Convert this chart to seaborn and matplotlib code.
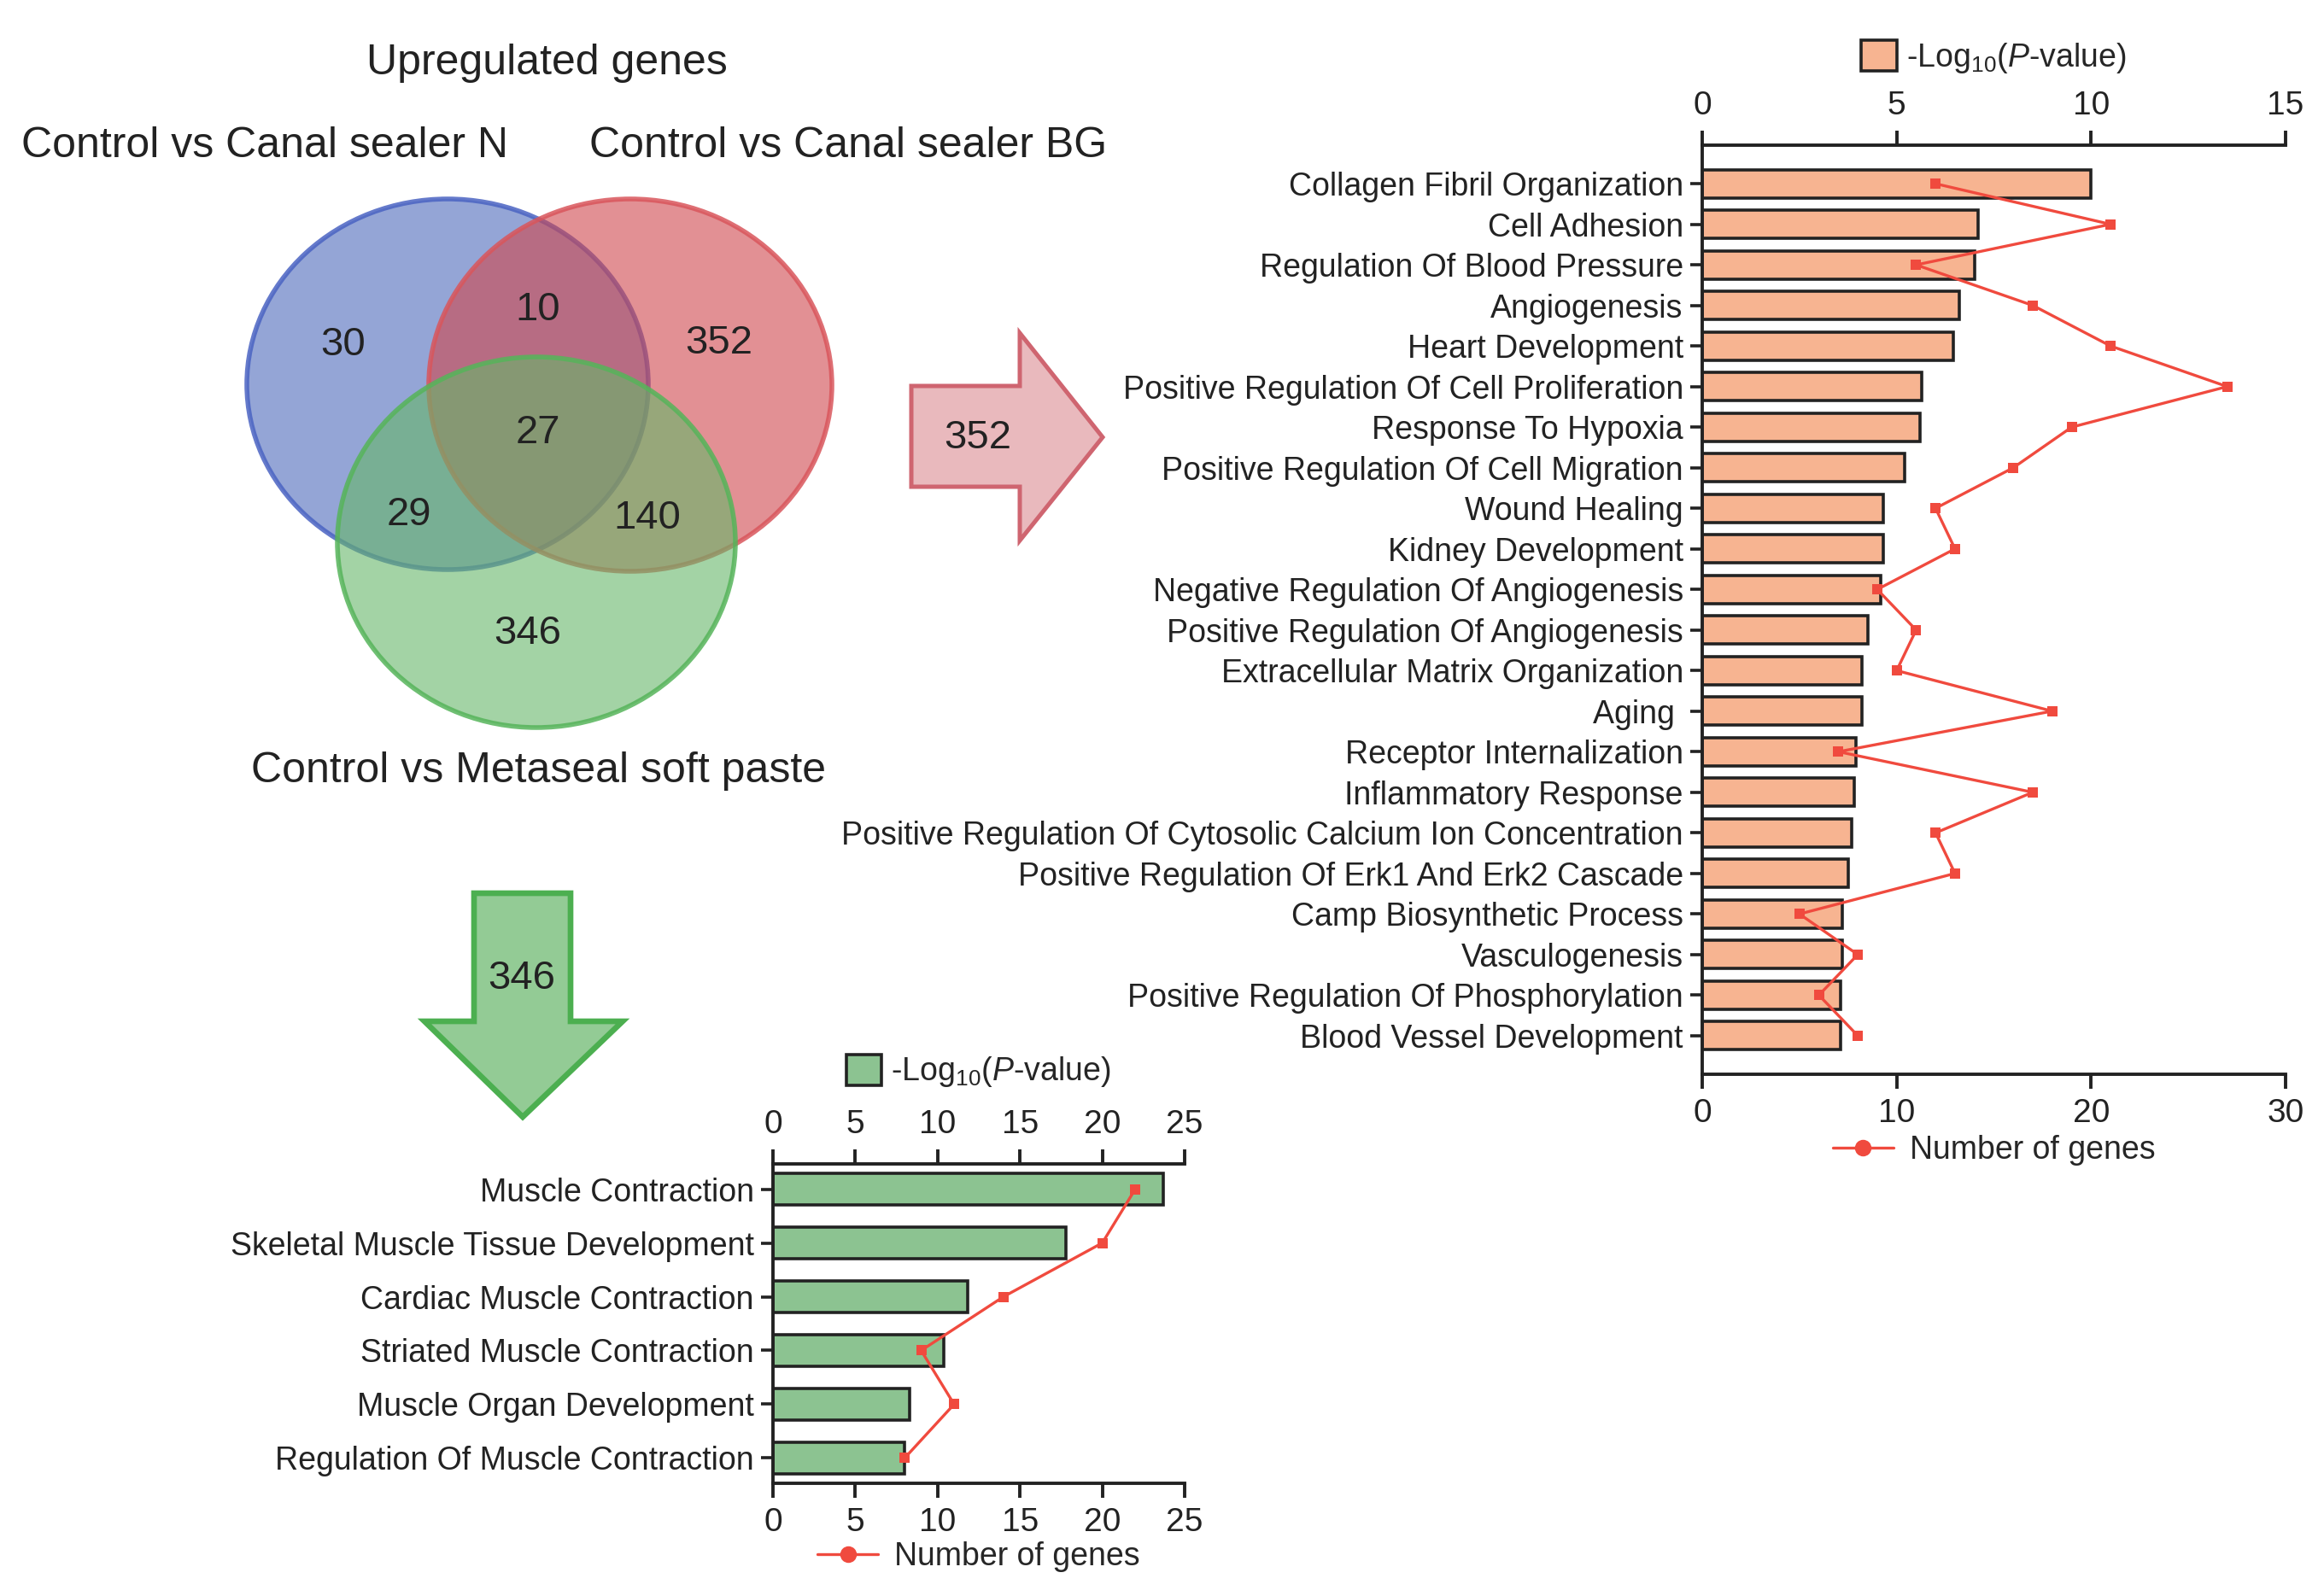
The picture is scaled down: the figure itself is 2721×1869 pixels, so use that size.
import numpy as np
import pandas as pd
import matplotlib
matplotlib.use('Agg')
import matplotlib.pyplot as plt
import seaborn as sns
from matplotlib.patches import Ellipse, Polygon, Patch
from matplotlib.lines import Line2D
from matplotlib.colors import to_rgba

# ---- data ----
set_names = ['Control vs Canal sealer N', 'Control vs Canal sealer BG', 'Control vs Metaseal soft paste']
venn_regions = ['N', 'N&BG', 'BG', 'all', 'N&MS', 'BG&MS', 'MS']
venn_counts = [30, 10, 352, 27, 29, 140, 346]

bg_terms = ['Collagen Fibril Organization', 'Cell Adhesion', 'Regulation Of Blood Pressure',
            'Angiogenesis', 'Heart Development', 'Positive Regulation Of Cell Proliferation',
            'Response To Hypoxia', 'Positive Regulation Of Cell Migration', 'Wound Healing',
            'Kidney Development', 'Negative Regulation Of Angiogenesis',
            'Positive Regulation Of Angiogenesis', 'Extracellular Matrix Organization', 'Aging ',
            'Receptor Internalization', 'Inflammatory Response',
            'Positive Regulation Of Cytosolic Calcium Ion Concentration',
            'Positive Regulation Of Erk1 And Erk2 Cascade', 'Camp Biosynthetic Process',
            'Vasculogenesis', 'Positive Regulation Of Phosphorylation', 'Blood Vessel Development']
bg_logp = [10.0, 7.1, 7.0, 6.6, 6.45, 5.65, 5.6, 5.2, 4.65, 4.65, 4.6,
           4.25, 4.1, 4.1, 3.95, 3.9, 3.85, 3.75, 3.6, 3.6, 3.55, 3.55]
bg_genes = [12, 21, 11, 17, 21, 27, 19, 16, 12, 13, 9, 11, 10, 18, 7, 17, 12, 13, 5, 8, 6, 8]

ms_terms = ['Muscle Contraction', 'Skeletal Muscle Tissue Development', 'Cardiac Muscle Contraction',
            'Striated Muscle Contraction', 'Muscle Organ Development', 'Regulation Of Muscle Contraction']
ms_logp = [23.7, 17.8, 11.85, 10.35, 8.3, 8.0]
ms_genes = [22, 20, 14, 9, 11, 8]

# ---- style ----
sns.set_style('ticks')
plt.rcParams['font.family'] = ['Liberation Sans', 'DejaVu Sans']
plt.rcParams['mathtext.fontset'] = 'custom'
plt.rcParams['mathtext.rm'] = 'Liberation Sans'
plt.rcParams['mathtext.it'] = 'Liberation Sans:italic'
ink = '#222222'
line_red = '#f04a3e'
logp_label = r'-Log$_{10}$($\mathit{P}$-value)'

W, H = 2721, 1869
fig = plt.figure(figsize=(W / 200, H / 200), dpi=200)

# ---- venn + arrows, drawn in pixel coordinates ----
venn = fig.add_axes([0, 0, 1, 1])
venn.set_xlim(0, W)
venn.set_ylim(H, 0)
venn.axis('off')

circles = [((524, 450), 470, 434, '#4d69bb', '#4a63c2'),
           ((738, 451), 472, 436, '#d0464d', '#d9565c'),
           ((628, 635), 466, 434, '#66b769', '#56b45a')]
for (cx, cy), w, h, fc, ec in circles:
    venn.add_patch(Ellipse((cx, cy), w, h, facecolor=to_rgba(fc, 0.6),
                           edgecolor=to_rgba(ec, 0.85), linewidth=2.0))

count_pos = [(402, 404), (630, 363), (842, 402), (630, 507), (479, 603), (758, 607), (618, 742)]
for (tx, ty), n in zip(count_pos, venn_counts):
    venn.text(tx, ty, str(n), fontsize=17, ha='center', va='center', color=ink)

venn.text(640, 74, 'Upregulated genes', fontsize=18, ha='center', va='center', color=ink)
venn.text(310, 171, set_names[0], fontsize=18, ha='center', va='center', color=ink)
venn.text(993, 171, set_names[1], fontsize=18, ha='center', va='center', color=ink)
venn.text(630, 903, set_names[2], fontsize=18, ha='center', va='center', color=ink)

red_arrow = [(1067, 452), (1194, 452), (1194, 390), (1291, 512), (1194, 633), (1194, 570), (1067, 570)]
venn.add_patch(Polygon(red_arrow, closed=True, facecolor='#e9b9bd', edgecolor='#cf6570', linewidth=1.8))
venn.text(1145, 513, str(venn_counts[2]), fontsize=17, ha='center', va='center', color=ink)

green_arrow = [(555, 1046), (668, 1046), (668, 1196), (729, 1196), (612, 1308), (497, 1196), (555, 1196)]
venn.add_patch(Polygon(green_arrow, closed=True, facecolor='#93cb95', edgecolor='#4caf50', linewidth=2.4))
venn.text(611, 1146, str(venn_counts[6]), fontsize=17, ha='center', va='center', color=ink)


def go_panel(rect, terms, logp, genes, color, top_max, top_ticks, bot_max, bot_ticks,
             ylim, bar_h, leg_top, leg_bot):
    ax = fig.add_axes(rect)
    df = pd.DataFrame({'term': terms, 'logp': logp})
    sns.barplot(data=df, x='logp', y='term', orient='h', color=color, saturation=1,
                edgecolor=ink, linewidth=1.3, width=bar_h, ax=ax)
    ax2 = ax.twiny()
    sns.lineplot(x=genes, y=np.arange(len(genes)), orient='y', sort=False, ax=ax2,
                 color=line_red, linewidth=1.2, marker='s', markersize=4.5, markeredgewidth=0)

    ax.set_xlim(0, top_max)
    ax.set_xticks(top_ticks)
    ax.xaxis.set_ticks_position('top')
    ax.set_xlabel('')
    ax.set_ylabel('')
    ax2.set_xlim(0, bot_max)
    ax2.set_xticks(bot_ticks)
    ax2.xaxis.set_ticks_position('bottom')
    ax2.set_xlabel('')
    ax2.set_ylabel('')
    ax.set_ylim(*ylim)

    for s in ['right', 'bottom']:
        ax.spines[s].set_visible(False)
    for s in ['right', 'top', 'left']:
        ax2.spines[s].set_visible(False)
    for s in ['top', 'left']:
        ax.spines[s].set_linewidth(1.4)
        ax.spines[s].set_color(ink)
    ax2.spines['bottom'].set_linewidth(1.4)
    ax2.spines['bottom'].set_color(ink)

    ax.tick_params(axis='x', direction='out', length=6, width=1.4, labelsize=14, pad=4, colors=ink)
    ax.tick_params(axis='y', direction='out', length=5, width=1.3, labelsize=13.5, pad=3, colors=ink)
    ax2.tick_params(axis='x', direction='out', length=6, width=1.4, labelsize=14, pad=4, colors=ink)

    h1 = Patch(facecolor=color, edgecolor=ink, linewidth=1.3)
    ax.legend([h1], [logp_label], loc='center', bbox_to_anchor=(0.5, leg_top), frameon=False,
              fontsize=13.5, handlelength=1.1, handleheight=1.1, handletextpad=0.3)
    h2 = Line2D([], [], color=line_red, marker='o', markersize=6, linewidth=1.2)
    ax2.legend([h2], ['Number of genes'], loc='center', bbox_to_anchor=(0.5, leg_bot), frameon=False,
               fontsize=13.5, handlelength=1.9, handletextpad=0.5)
    return ax, ax2


go_panel([1993 / W, (H - 1258) / H, 683 / W, 1088 / H], bg_terms, bg_logp, bg_genes, '#f7b491',
         15, [0, 5, 10, 15], 30, [0, 10, 20, 30], (21.95, -0.95), 0.70, 1.094, -0.082)
go_panel([905 / W, (H - 1737) / H, 482 / W, 374 / H], ms_terms, ms_logp, ms_genes, '#8cc391',
         25, [0, 5, 10, 15, 20, 25], 25, [0, 5, 10, 15, 20, 25], (5.47, -0.47), 0.60, 1.289, -0.23)

fig.savefig('out.png', dpi=200)
